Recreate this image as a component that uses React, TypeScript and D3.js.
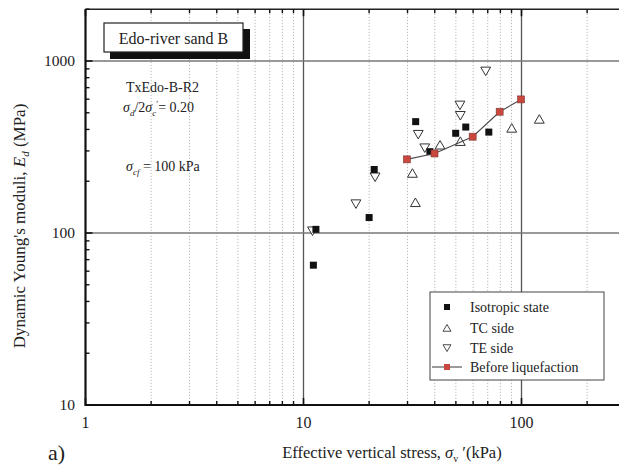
import React from "react";
import * as d3 from "d3";

// Isotropic state
const isoStress = [11.4, 11.1, 21.1, 20.0, 32.7, 38.0, 49.9, 55.5, 70.8];
const isoModulus = [105, 65, 234, 123, 444, 297, 380, 413, 386];

// TC side
const tcStress = [31.6, 32.6, 42.3, 52.4, 90.2, 120.7];
const tcModulus = [222, 150, 324, 340, 406, 458];

// TE side
const teStress = [11.0, 17.4, 21.3, 33.6, 36.0, 52.2, 52.4, 68.5];
const teModulus = [103, 148, 212, 375, 313, 555, 483, 875];

// Before liquefaction
const blStress = [29.8, 39.9, 59.7, 79.4, 99.5];
const blModulus = [268, 290, 363, 507, 598];

const xMajorTicks = [1, 10, 100];
const yMajorTicks = [10, 100, 1000];
const legendLabels = ["Isotropic state", "TC side", "TE side", "Before liquefaction"];

const W = 619;
const H = 466;
const FONT = "Liberation Serif, DejaVu Serif, serif";
const RED = "#c9473c";

export default function App() {
  const x = d3.scaleLog().domain([1, 1000]).range([85.5, 85.5 + 3 * 218]);
  const y = d3.scaleLog().domain([10, 2000]).range([405, 405 - 172 * Math.log10(200)]);

  const [x0] = x.range();
  const [y0, y1] = y.range();

  const xMinor: number[] = [];
  for (const d of [1, 10, 100]) for (let k = 2; k <= 9; k++) xMinor.push(d * k);
  const yMinor: number[] = [];
  for (const d of [10, 100, 1000]) for (let k = 2; k <= 9; k++) if (d * k <= 2000) yMinor.push(d * k);

  const sq = 7;
  const triUp = d3.symbol().type(d3.symbolTriangle).size(42)() as string;

  const blLine = d3
    .line<number>()
    .x((_, i) => x(blStress[i]))
    .y((d) => y(d))(blModulus) as string;

  const legendX = 430;
  const legendY = 292;
  const legendRows = [307, 328, 348, 367];

  const txt = { fontFamily: FONT, fill: "#222" } as const;

  return (
    <svg
      width={W}
      height={H}
      style={{ position: "absolute", left: 0, top: 0, background: "#fff", fontFamily: FONT }}
    >
      {/* minor vertical grid */}
      {xMinor.map((v) => (
        <line
          key={"xg" + v}
          x1={x(v)}
          x2={x(v)}
          y1={y0}
          y2={y1}
          stroke="#a8a8a8"
          strokeWidth={0.8}
          strokeDasharray="1.2,1.8"
        />
      ))}
      {/* major grid */}
      {[10, 100].map((v) => (
        <line key={"xM" + v} x1={x(v)} x2={x(v)} y1={y0} y2={y1} stroke="#555" strokeWidth={1.3} />
      ))}
      {[100, 1000].map((v) => (
        <line key={"yM" + v} x1={x0} x2={W + 2} y1={y(v)} y2={y(v)} stroke="#777" strokeWidth={1.3} />
      ))}

      {/* axes frame */}
      <line x1={x0} x2={W + 2} y1={y0} y2={y0} stroke="#111" strokeWidth={2.2} />
      <line x1={x0} x2={W + 2} y1={y1} y2={y1} stroke="#222" strokeWidth={1.6} />
      <line x1={x0} x2={x0} y1={y0 + 1} y2={y1} stroke="#111" strokeWidth={2.2} />

      {/* x ticks (bottom and top, inward) */}
      {xMajorTicks.concat([1000]).map((v) => (
        <g key={"xt" + v}>
          <line x1={x(v)} x2={x(v)} y1={y0} y2={y0 - 7} stroke="#111" strokeWidth={1.6} />
          <line x1={x(v)} x2={x(v)} y1={y1} y2={y1 + 7} stroke="#111" strokeWidth={1.6} />
        </g>
      ))}
      {xMinor.map((v) => (
        <g key={"xmt" + v}>
          <line x1={x(v)} x2={x(v)} y1={y0} y2={y0 - 4} stroke="#111" strokeWidth={1.4} />
          <line x1={x(v)} x2={x(v)} y1={y1} y2={y1 + 4} stroke="#111" strokeWidth={1.4} />
        </g>
      ))}
      {/* y ticks (left, inward) */}
      {yMajorTicks.map((v) => (
        <line key={"yt" + v} x1={x0} x2={x0 + 7} y1={y(v)} y2={y(v)} stroke="#111" strokeWidth={1.6} />
      ))}
      {yMinor.map((v) => (
        <line key={"ymt" + v} x1={x0} x2={x0 + 4} y1={y(v)} y2={y(v)} stroke="#111" strokeWidth={1.4} />
      ))}

      {/* tick labels */}
      {xMajorTicks.map((v) => (
        <text key={"xl" + v} x={x(v)} y={428} textAnchor="middle" fontSize={16} {...txt}>
          {v}
        </text>
      ))}
      {yMajorTicks.map((v) => (
        <text key={"yl" + v} x={75} y={y(v) + 5} textAnchor="end" fontSize={15.5} {...txt}>
          {v}
        </text>
      ))}

      {/* axis titles */}
      <text x={392} y={458} textAnchor="middle" fontSize={16.5} {...txt}>
        Effective vertical stress,{" "}
        <tspan fontStyle="italic">σ</tspan>
        <tspan fontSize={10} dy={4}>v</tspan>
        <tspan dy={-4}> ′(kPa)</tspan>
      </text>
      <text x={48} y={460} fontSize={22} {...txt}>
        a)
      </text>
      <text transform={`translate(25,226) rotate(-90)`} textAnchor="middle" fontSize={17} {...txt}>
        Dynamic Young's moduli,{" "}
        <tspan fontStyle="italic">E</tspan>
        <tspan fontStyle="italic" fontSize={11} dy={4}>d</tspan>
        <tspan dy={-4}> (MPa)</tspan>
      </text>

      {/* sample label box with drop shadow */}
      <rect x={110} y={29} width={140} height={30} fill="#111" />
      <rect x={104} y={23} width={139} height={29} fill="#fff" stroke="#222" strokeWidth={1.2} />
      <text x={173.5} y={44} textAnchor="middle" fontSize={16} {...txt}>
        Edo-river sand B
      </text>

      {/* test conditions */}
      <text x={126} y={92} fontSize={14} {...txt}>
        TxEdo-B-R2
      </text>
      <text x={123} y={112} fontSize={14} {...txt}>
        <tspan fontStyle="italic">σ</tspan>
        <tspan fontSize={9} dy={4} fontStyle="italic">d</tspan>
        <tspan dy={-4}>/2</tspan>
        <tspan fontStyle="italic">σ</tspan>
        <tspan fontSize={9} dy={4} fontStyle="italic">c</tspan>
        <tspan fontSize={9} dy={-9}>′</tspan>
        <tspan dy={5}>= 0.20</tspan>
      </text>
      <text x={126} y={171} fontSize={14} {...txt}>
        <tspan fontStyle="italic">σ</tspan>
        <tspan fontSize={9} dy={4} fontStyle="italic">cf</tspan>
        <tspan dy={-4}> = 100 kPa</tspan>
      </text>

      {/* TC side */}
      {tcStress.map((s, i) => (
        <path
          key={"tc" + i}
          d={triUp}
          transform={`translate(${x(s)},${y(tcModulus[i]) + 1})`}
          fill="#fff"
          stroke="#333"
          strokeWidth={1}
        />
      ))}
      {/* TE side */}
      {teStress.map((s, i) => (
        <path
          key={"te" + i}
          d={triUp}
          transform={`translate(${x(s)},${y(teModulus[i]) - 1}) rotate(180)`}
          fill="#fff"
          stroke="#333"
          strokeWidth={1}
        />
      ))}
      {/* Isotropic state */}
      {isoStress.map((s, i) => (
        <rect
          key={"iso" + i}
          x={x(s) - sq / 2}
          y={y(isoModulus[i]) - sq / 2}
          width={sq}
          height={sq}
          fill="#111"
        />
      ))}
      {/* Before liquefaction */}
      <path d={blLine} fill="none" stroke="#4a4a4a" strokeWidth={1.1} />
      {blStress.map((s, i) => (
        <rect
          key={"bl" + i}
          x={x(s) - sq / 2}
          y={y(blModulus[i]) - sq / 2}
          width={sq}
          height={sq}
          fill={RED}
          stroke="#7a3a34"
          strokeWidth={0.6}
        />
      ))}

      {/* legend */}
      <rect x={legendX} y={legendY} width={174} height={88} fill="#fff" stroke="#444" strokeWidth={1} />
      <rect x={447 - 3} y={legendRows[0] - 3} width={6} height={6} fill="#111" />
      <path
        d={triUp}
        transform={`translate(447,${legendRows[1] + 1}) scale(0.8)`}
        fill="#fff"
        stroke="#333"
        strokeWidth={1.1}
      />
      <path
        d={triUp}
        transform={`translate(447,${legendRows[2] - 1}) rotate(180) scale(0.8)`}
        fill="#fff"
        stroke="#333"
        strokeWidth={1.1}
      />
      <line x1={432} x2={462} y1={legendRows[3]} y2={legendRows[3]} stroke="#4a4a4a" strokeWidth={1.1} />
      <rect x={447 - 3} y={legendRows[3] - 3} width={6} height={6} fill={RED} />
      {legendLabels.map((t, i) => (
        <text key={t} x={470} y={legendRows[i] + 5} fontSize={14} {...txt}>
          {t}
        </text>
      ))}
    </svg>
  );
}
